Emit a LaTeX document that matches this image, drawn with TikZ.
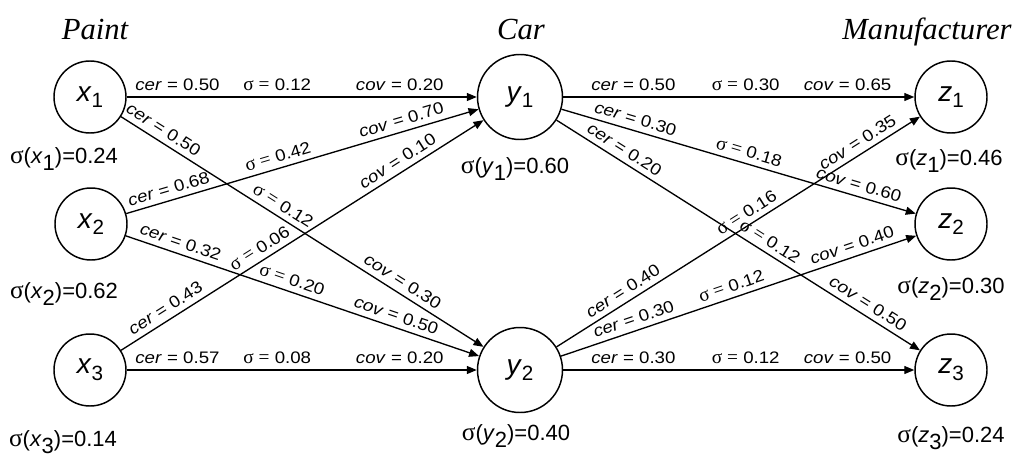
\documentclass[tikz,border=0pt]{standalone}
\usepackage{fontspec}
\setmainfont{Liberation Sans}
\newfontfamily\serifit{Liberation Serif}
\newfontfamily\edgefont[FakeStretch=1.12]{Liberation Sans}
\usepackage{tikz}
\usetikzlibrary{arrows.meta}
\newcommand{\sg}{{\serifit\fontsize{19}{20}\selectfont σ}}
\newcommand{\esg}{{\serifit\fontsize{14.5}{16}\selectfont σ =}}
\newcommand{\vsub}[2]{\textit{#1}\raisebox{-.32em}{#2}}
\newcommand{\usub}[2]{\textit{#1}\raisebox{-5pt}{\fontsize{15.5}{16}\selectfont #2}}

\begin{document}
\begin{tikzpicture}[x=0.75pt, y=-0.75pt,
  unit/.style={draw, circle, line width=1.1pt, minimum size=54pt, inner sep=0pt, font=\fontsize{21}{22}\selectfont},
  bigunit/.style={unit, minimum size=63.75pt},
  title/.style={font=\serifit\itshape\fontsize{23}{26}\selectfont, anchor=base, inner sep=0pt},
  siglab/.style={font=\fontsize{16.5}{18}\selectfont, anchor=base, inner sep=0pt},
  link/.style={line width=1pt, -{Triangle[length=7.5pt,width=6pt]}},
  elab/.style={font=\edgefont\fontsize{12.5}{14}\selectfont, sloped, anchor=south, inner xsep=0pt, inner ysep=4pt}
]
  \useasboundingbox (0,0) rectangle (1035,457);

  % layer titles
  \node[title] (tpaint) at (95,39) {Paint};
  \node[title] (tcar) at (521,39) {Car};
  \node[title] (tmanu) at (927,39) {Manufacturer};

  % units
  \node[unit] (x1) at (90,97) {\usub{x}{1}};
  \node[unit] (x2) at (91,224) {\usub{x}{2}};
  \node[unit] (x3) at (90,370) {\usub{x}{3}};
  \node[bigunit] (y1) at (520,97) {\usub{y}{1}};
  \node[bigunit] (y2) at (520,370) {\usub{y}{2}};
  \node[unit] (z1) at (951,97) {\usub{z}{1}};
  \node[unit] (z2) at (951,224) {\usub{z}{2}};
  \node[unit] (z3) at (951,370) {\usub{z}{3}};

  % unit sigmas
  \node[siglab] (sx1) at (64,163) {\sg(\vsub{x}{1})=0.24};
  \node[siglab] (sx2) at (64,298) {\sg(\vsub{x}{2})=0.62};
  \node[siglab] (sx3) at (63,446) {\sg(\vsub{x}{3})=0.14};
  \node[siglab] (sy1) at (515,173) {\sg(\vsub{y}{1})=0.60};
  \node[siglab] (sy2) at (516,440) {\sg(\vsub{y}{2})=0.40};
  \node[siglab] (sz1) at (949,165) {\sg(\vsub{z}{1})=0.46};
  \node[siglab] (sz2) at (951,293) {\sg(\vsub{z}{2})=0.30};
  \node[siglab] (sz3) at (951,442) {\sg(\vsub{z}{3})=0.24};

  % paint -> car
  \draw[link] (x1) -- node[elab,pos=.145] {\textit{cer} = 0.50} node[elab,pos=.43] {\esg{} 0.12} node[elab,pos=.78] {\textit{cov} = 0.20} (y1);
  \draw[link] (x1) -- node[elab,pos=.10] {\textit{cer} = 0.50} node[elab,pos=.43] {\esg{} 0.12} node[elab,pos=.76] {\textit{cov} = 0.30} (y2);
  \draw[link] (x2) -- node[elab,pos=.13] {\textit{cer} = 0.68} node[elab,pos=.44] {\esg{} 0.42} node[elab,pos=.79] {\textit{cov} = 0.70} (y1);
  \draw[link] (x2) -- node[elab,pos=.145] {\textit{cer} = 0.32} node[elab,pos=.46] {\esg{} 0.20} node[elab,pos=.755] {\textit{cov} = 0.50} (y2);
  \draw[link] (x3) -- node[elab,pos=.14] {\textit{cer} = 0.43} node[elab,pos=.40] {\esg{} 0.06} node[elab,pos=.78] {\textit{cov} = 0.10} (y1);
  \draw[link] (x3) -- node[elab,pos=.145] {\textit{cer} = 0.57} node[elab,pos=.43] {\esg{} 0.08} node[elab,pos=.78] {\textit{cov} = 0.20} (y2);

  % car -> manufacturer
  \draw[link] (y1) -- node[elab,pos=.2] {\textit{cer} = 0.50} node[elab,pos=.52] {\esg{} 0.30} node[elab,pos=.81] {\textit{cov} = 0.65} (z1);
  \draw[link] (y1) -- node[elab,pos=.2] {\textit{cer} = 0.30} node[elab,pos=.52] {\esg{} 0.18} node[elab,pos=.83] {\textit{cov} = 0.60} (z2);
  \draw[link] (y1) -- node[elab,pos=.17] {\textit{cer} = 0.20} node[elab,pos=.57] {\esg{} 0.12} node[elab,pos=.84] {\textit{cov} = 0.50} (z3);
  \draw[link] (y2) -- node[elab,pos=.2] {\textit{cer} = 0.40} node[elab,pos=.54] {\esg{} 0.16} node[elab,pos=.845] {\textit{cov} = 0.35} (z1);
  \draw[link] (y2) -- node[elab,pos=.215] {\textit{cer} = 0.30} node[elab,pos=.49] {\esg{} 0.12} node[elab,pos=.83] {\textit{cov} = 0.40} (z2);
  \draw[link] (y2) -- node[elab,pos=.2] {\textit{cer} = 0.30} node[elab,pos=.52] {\esg{} 0.12} node[elab,pos=.81] {\textit{cov} = 0.50} (z3);
\end{tikzpicture}
\end{document}
